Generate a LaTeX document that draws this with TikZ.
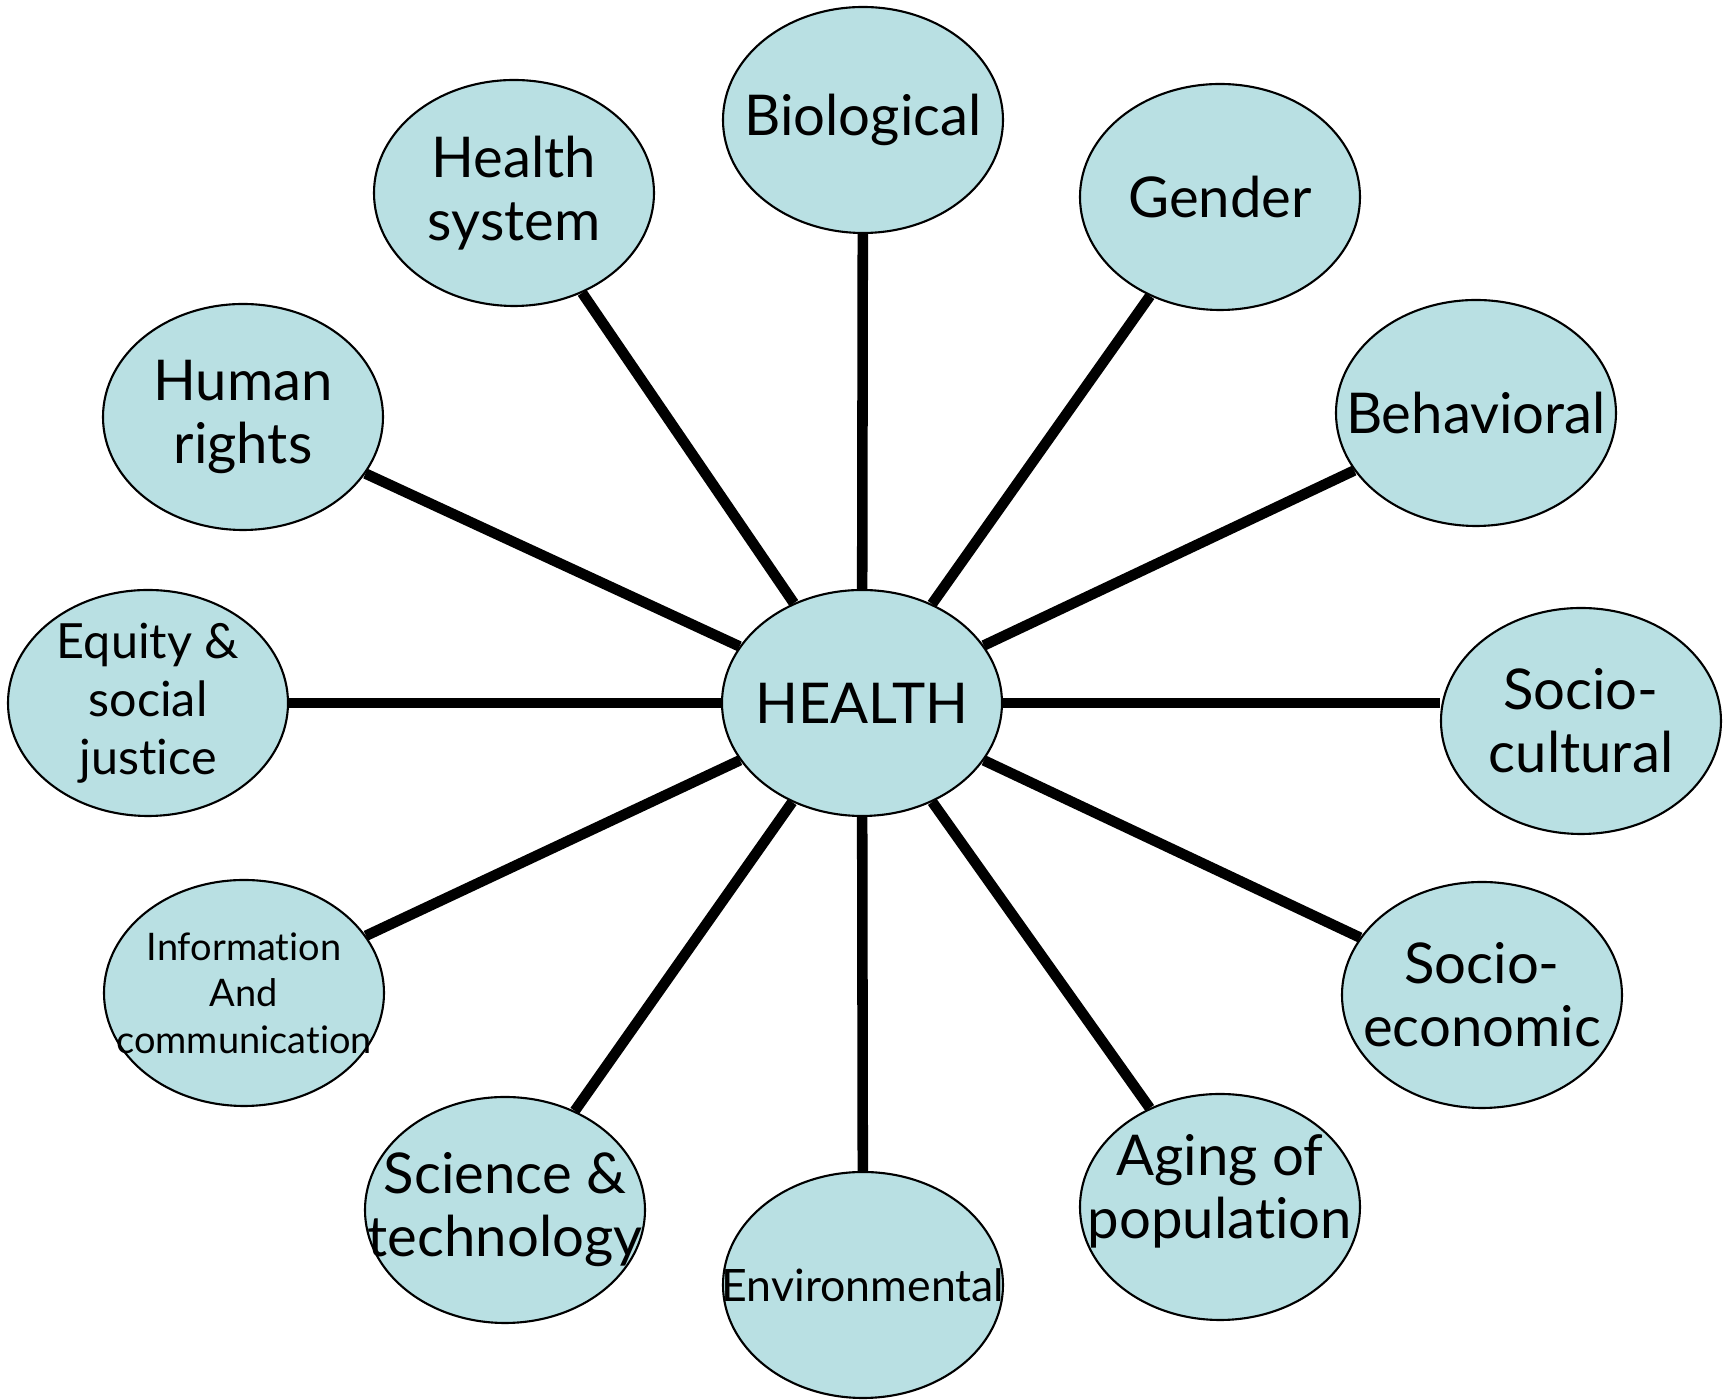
\documentclass[tikz,border=0pt]{standalone}
\usepackage{fontspec}
\setmainfont{Lato}[Ligatures={NoCommon,NoRare}]
\usetikzlibrary{shapes.geometric}
\definecolor{paleblue}{RGB}{185,224,227}

\begin{document}
\begin{tikzpicture}[x=0.1mm,y=-0.1mm]
        \tikzstyle{factor}=[ellipse, draw=black, line width=0.6pt, fill=paleblue, inner sep=0pt, minimum width=28mm, minimum height=22.6mm]
        \tikzstyle{big}=[align=center, font=\fontsize{16}{18}\selectfont]
        \tikzstyle{mid}=[align=center, font=\fontsize{13.8}{16.5}\selectfont]
        \tikzstyle{small}=[align=center, font=\fontsize{10.8}{13.2}\selectfont]
        \tikzstyle{spoke}=[line width=3pt]
        \useasboundingbox (0,0) rectangle (1729,1400);
        % centre
        \node[factor, label={[big]center:HEALTH}] (health) at (862,703) {};
        % factors, clockwise from the top
        \node[factor, label={[big]center:Biological}] (bio) at (863,120) {};
        \node[factor, label={[big]center:Gender}] (gender) at (1220,197) {};
        \node[factor, label={[big]center:Behavioral}] (behav) at (1476,413) {};
        \node[factor, label={[big]center:Socio-\\cultural}] (sociocult) at (1581,721) {};
        \node[factor, label={[big]center:Socio-\\economic}] (socioeco) at (1482,995) {};
        \node[factor, label={[big, yshift=1.6mm]center:Aging of\\population}] (aging) at (1220,1207) {};
        \node[factor, label={[mid, font=\fontsize{12.7}{15}\selectfont]center:Environmental}] (env) at (863,1285) {};
        \node[factor, label={[big]center:Science \&\\technology}] (science) at (505,1210) {};
        \node[factor, label={[small]center:Information\\And\\communication}] (info) at (244,993) {};
        \node[factor, label={[mid]center:Equity \&\\social\\justice}] (equity) at (148,703) {};
        \node[factor, label={[big]center:Human\\rights}] (rights) at (243,417) {};
        \node[factor, label={[big]center:Health\\system}] (hsys) at (514,193) {};
        % spokes
        \foreach \f in {bio,gender,behav,socioeco,aging,env,science,info,equity,rights,hsys}
            \draw[spoke] (health) -- (\f);
        \draw[spoke] (health) -- (health -| sociocult.west);
\end{tikzpicture}
\end{document}
